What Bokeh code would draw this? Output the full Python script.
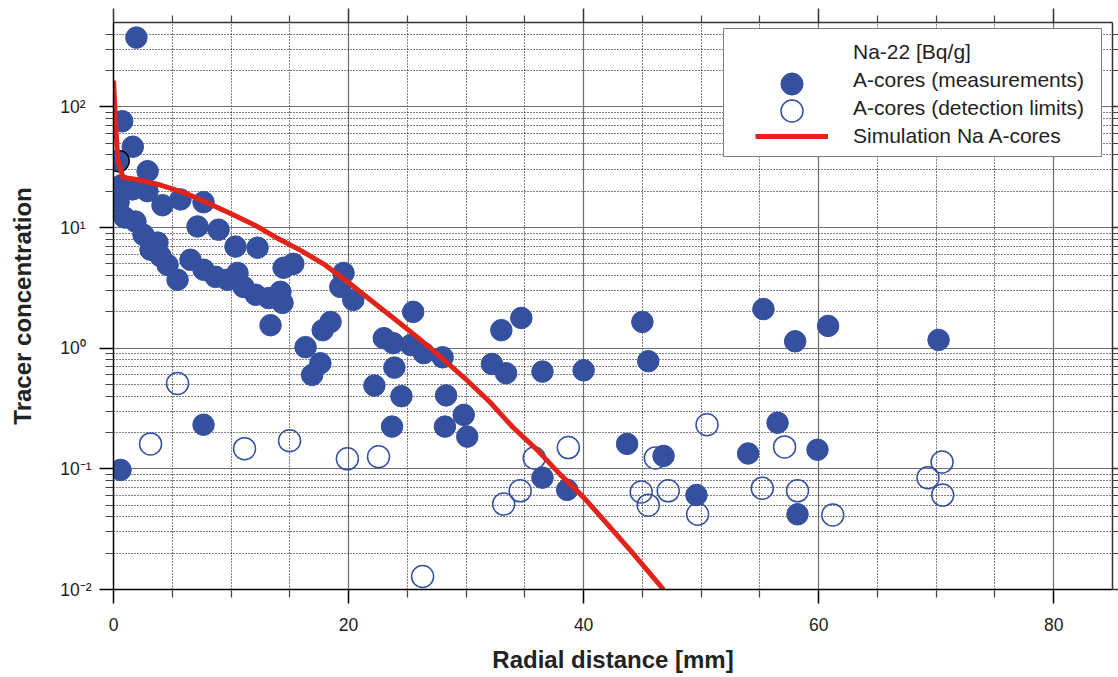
from bokeh.plotting import figure
from bokeh.models import (Range1d, FixedTicker, LinearAxis, LogAxis, CustomJSTickFormatter,
                          Legend, LegendItem)
from bokeh.embed import file_html
from bokeh.resources import INLINE

FONT = "Liberation Sans"
BLUE = "#34509E"
RED = "#E2231A"
TXT = "#222222"

# ---- data: A-cores measurements (radial distance mm, Bq/g)
meas_x = [1.95, 0.74, 1.64, 2.9,
          0.68, 0.43, 0.94, 1.62, 1.87, 2.89, 4.17, 5.7, 7.66,
          7.15, 8.94, 10.38, 12.26, 14.47, 15.3,
          2.55, 3.74, 3.15, 4.0, 4.6, 5.45, 6.55, 7.66, 8.68, 9.7, 10.55, 11.06,
          12.1, 13.2, 14.2, 14.38, 13.36,
          19.57, 19.3, 20.4, 18.47, 17.8, 16.34, 17.6, 16.9, 23.0,
          25.5, 23.8, 25.3, 26.4, 28.0, 23.9, 22.2, 24.5, 23.7, 28.3, 29.8, 28.2, 30.1,
          33.0, 34.7, 32.2, 33.4, 36.5, 40.0, 36.5, 38.6, 43.7, 46.8, 49.6, 54.0,
          45.0, 45.5, 55.3, 58.0, 60.8, 70.2, 56.5, 59.9, 58.2, 7.66, 0.6]
meas_y = [375, 76, 46.7, 29.3,
          22.4, 16.2, 12.1, 20.7, 11.2, 20.0, 15.3, 17.1, 16.2,
          10.2, 9.6, 6.95, 6.8, 4.64, 5.0,
          8.7, 7.5, 6.55, 5.8, 4.9, 3.69, 5.4, 4.47, 3.9, 3.69, 4.2, 3.22,
          2.77, 2.6, 2.93, 2.37, 1.55,
          4.2, 3.22, 2.51, 1.65, 1.41, 1.02, 0.75, 0.6, 1.21,
          2.0, 1.10, 1.06, 0.91, 0.84, 0.69, 0.49, 0.40, 0.224, 0.406, 0.28, 0.224, 0.185,
          1.41, 1.78, 0.74, 0.62, 0.64, 0.655, 0.0845, 0.067, 0.161, 0.128, 0.0606, 0.134,
          1.65, 0.78, 2.11, 1.14, 1.53, 1.17, 0.241, 0.144, 0.042, 0.232, 0.098]

# outlined measurement near the origin
edge_x = [0.43]
edge_y = [35.5]

# ---- data: A-cores detection limits
dl_x = [5.45, 3.15, 11.15, 14.98, 19.9, 22.55, 26.3, 35.8, 38.7, 34.6, 33.2, 50.5,
        46.1, 44.9, 45.5, 47.2, 49.7, 55.2, 57.1, 58.2, 61.2, 69.3, 70.5, 70.55]
dl_y = [0.51, 0.161, 0.147, 0.171, 0.121, 0.126, 0.0128, 0.123, 0.15, 0.0657, 0.051, 0.232,
        0.123, 0.0643, 0.05, 0.0657, 0.042, 0.069, 0.152, 0.0657, 0.0414, 0.0843, 0.114, 0.0606]

# ---- data: simulation Na A-cores
sim_x = [0, 0.2, 0.35, 0.8, 2, 4, 6, 8, 10, 12, 14, 16, 18, 20, 22, 24, 26, 28, 30,
         32, 34, 36, 38, 40, 42, 44, 46.8]
sim_y = [165, 69, 37, 26, 25, 22.5, 19.5, 16, 13, 10.5, 8.1, 6.4, 4.9, 3.5, 2.45, 1.72,
         1.2, 0.82, 0.55, 0.36, 0.22, 0.145, 0.09, 0.058, 0.035, 0.021, 0.01]

# ---- ticks
x_major = [0, 20, 40, 60, 80]
x_minor = [5, 10, 15, 25, 30, 35, 45, 50, 55, 65, 70, 75]
y_major = [0.01, 0.1, 1, 10, 100]
y_minor = [0.02, 0.03, 0.04, 0.05, 0.06, 0.07, 0.08, 0.09,
           0.2, 0.3, 0.4, 0.5, 0.6, 0.7, 0.8, 0.9,
           2, 3, 4, 5, 6, 7, 8, 9,
           20, 30, 40, 50, 60, 70, 80, 90,
           200, 300, 400]

labels = ["Na-22 [Bq/g]", "A-cores (measurements)", "A-cores (detection limits)",
          "Simulation Na A-cores"]

p = figure(width=1118, height=677, x_range=Range1d(0, 85), y_range=Range1d(0.01, 500),
           y_axis_type="log", output_backend="svg", toolbar_location=None,
           min_border_left=113, min_border_right=6, min_border_top=22, min_border_bottom=88,
           background_fill_color="white", border_fill_color="white")
p.outline_line_color = None

xt = FixedTicker(ticks=x_major, minor_ticks=x_minor)
yt = FixedTicker(ticks=y_major, minor_ticks=y_minor)

fmt = CustomJSTickFormatter(code="""
const sup = {"-": "\u207b", "0": "\u2070", "1": "\u00b9", "2": "\u00b2", "3": "\u00b3"};
const e = Math.round(Math.log10(tick));
let s = "10";
for (const c of String(e)) { s += sup[c]; }
if (e >= 0) { s += "\u2004"; }
return s;
""")
blank = CustomJSTickFormatter(code="return '';")

xa = p.below[0]
xa.ticker = xt
ya = p.left[0]
ya.ticker = yt
ya.formatter = fmt
for ax in (xa, ya):
    ax.major_label_text_font = FONT
    ax.major_label_text_font_size = "17.5px"
    ax.major_label_text_color = TXT
    ax.axis_label_text_font = FONT
    ax.axis_label_text_font_style = "bold"
    ax.axis_label_text_font_size = "24px"
    ax.axis_label_text_color = TXT
    ax.major_tick_out = 14
    ax.major_tick_in = 0
    ax.minor_tick_out = 8
    ax.minor_tick_in = 0
    ax.axis_line_color = "black"
    ax.axis_line_width = 1.5
    ax.major_tick_line_color = "black"
    ax.major_tick_line_width = 1.5
    ax.minor_tick_line_color = "#444444"
    ax.minor_tick_line_width = 1.2
xa.axis_label = "Radial distance [mm]"
xa.major_label_standoff = 14
xa.axis_label_standoff = 12
ya.axis_label = "Tracer concentration"
ya.major_label_standoff = 8
ya.axis_label_standoff = 21

top = LinearAxis(ticker=xt, formatter=blank, major_label_text_font_size="1px",
                 major_label_standoff=0,
                 major_tick_out=14, major_tick_in=0, minor_tick_out=7, minor_tick_in=0,
                 axis_line_color="#333333", axis_line_width=1.5,
                 major_tick_line_color="#333333", major_tick_line_width=1.5,
                 minor_tick_line_color="#444444", minor_tick_line_width=1.2)
p.add_layout(top, "above")
right = LogAxis(ticker=yt, formatter=blank, major_label_text_font_size="1px",
                major_label_standoff=0,
                major_tick_out=6, major_tick_in=0, minor_tick_out=6, minor_tick_in=0,
                axis_line_color="#333333", axis_line_width=1.5,
                major_tick_line_color="#333333", major_tick_line_width=1.5,
                minor_tick_line_color="#444444", minor_tick_line_width=1.2)
p.add_layout(right, "right")

for g, t in ((p.xgrid[0], xt), (p.ygrid[0], yt)):
    g.ticker = t
    g.grid_line_color = "#6e6e6e"
    g.grid_line_width = 1.2
    g.minor_grid_line_color = "black"
    g.minor_grid_line_width = 1
    g.minor_grid_line_dash = "1 2"

r_open = p.scatter(dl_x, dl_y, size=22, marker="circle", fill_color=None,
                   line_color=BLUE, line_width=1.5)
r_meas = p.scatter(meas_x, meas_y, size=21.5, marker="circle", fill_color=BLUE,
                   line_color=BLUE, line_width=1)
p.scatter(edge_x, edge_y, size=21.5, marker="circle", fill_color=BLUE,
          line_color="black", line_width=1.3)
r_sim = p.line(sim_x, sim_y, line_color=RED, line_width=5)

dummy = p.line(x=[], y=[], line_alpha=0)

common = dict(padding=0, margin=0, border_line_alpha=0, background_fill_alpha=0)

# legend frame
box = Legend(items=[LegendItem(label=" ", renderers=[dummy])], location=(610, 432),
             glyph_width=377, glyph_height=127, padding=0, margin=0, label_standoff=0,
             label_width=0, label_height=0, label_text_font_size="1px",
             border_line_color="black", border_line_width=1,
             background_fill_color="white", background_fill_alpha=1)
p.add_layout(box)

# legend texts (and the simulation line sample)
content = Legend(items=[LegendItem(label=labels[0], renderers=[dummy]),
                        LegendItem(label=labels[1], renderers=[dummy]),
                        LegendItem(label=labels[2], renderers=[dummy]),
                        LegendItem(label=labels[3], renderers=[r_sim])],
                 location=(642, 439), glyph_width=73, glyph_height=28, label_height=28,
                 spacing=0, label_standoff=25,
                 label_text_font=FONT, label_text_font_size="21px", label_text_color=TXT,
                 **common)
p.add_layout(content)

# large marker samples for the two circle entries
for rend, vy in ((r_meas, 478.5), (r_open, 451.5)):
    lg = Legend(items=[LegendItem(label=" ", renderers=[rend])], location=(650.5, vy),
                glyph_width=55, glyph_height=55, label_standoff=0, label_width=0,
                label_height=0, label_text_font_size="1px", **common)
    p.add_layout(lg)

open("out.html", "w").write(file_html(p, INLINE))
